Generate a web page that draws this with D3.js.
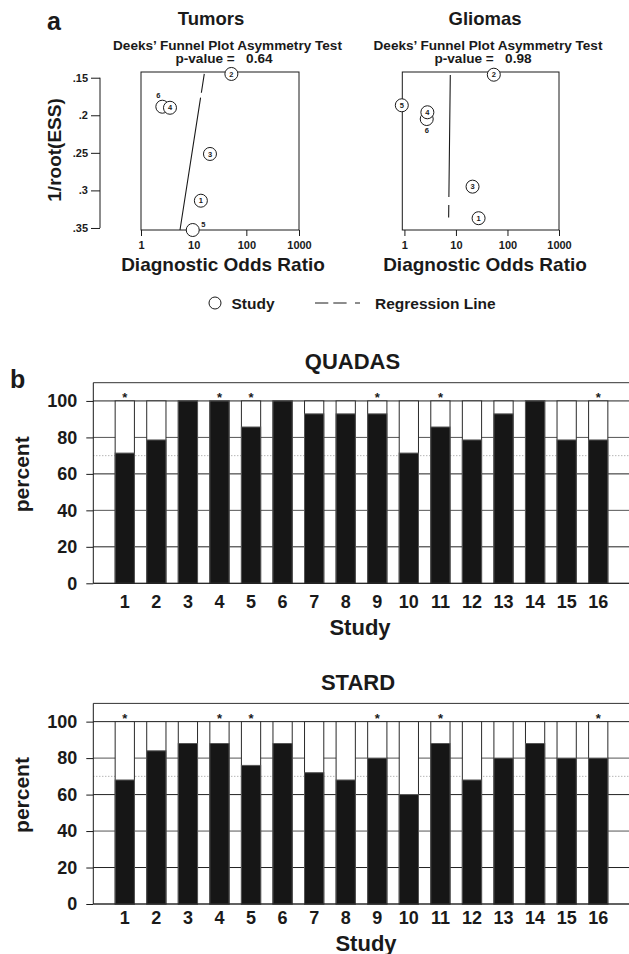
<!DOCTYPE html>
<html>
<head>
<meta charset="utf-8">
<script src="https://cdn.jsdelivr.net/npm/d3@7/dist/d3.min.js"></script>
<style>
  html, body { margin: 0; padding: 0; background: #fff; }
  svg { display: block; }
  text { font-family: "Liberation Sans", Arial, Helvetica, sans-serif; font-weight: bold; fill: #1a1a1a; }
</style>
</head>
<body>
<svg id="chart" width="629" height="954"></svg>
<script>
// ---------------- DATA ----------------
// Panel a: Deeks' funnel plots
const funnelStudies = ["1", "2", "3", "4", "5", "6"];
const tumorDOR = [13.7, 52, 20.4, 3.55, 9.6, 2.54];
const tumorESS = [0.3137, 0.145, 0.2515, 0.190, 0.3527, 0.1886];
const tumorLabelPos = ["c", "c", "c", "c", "ne", "nw"];
const tumorRegDOR = [15.9, 5.5];
const tumorRegESS = [0.145, 0.3527];
const tumorPValue = "0.64";

const gliomaDOR = [27.5, 54.3, 21.0, 2.79, 0.89, 2.71];
const gliomaESS = [0.337, 0.146, 0.295, 0.196, 0.1867, 0.205];
const gliomaLabelPos = ["c", "c", "c", "c", "c", "s"];
const gliomaRegDOR = [7.77, 7.22];
const gliomaRegESS = [0.1464, 0.336];
const gliomaPValue = "0.98";

const essTicks = [0.15, 0.2, 0.25, 0.3, 0.35];
const essTickLabels = [".15", ".2", ".25", ".3", ".35"];
const dorTicks = [1, 10, 100, 1000];

// Panel b: quality scores per study
const studyLabels = ["1","2","3","4","5","6","7","8","9","10","11","12","13","14","15","16"];
const quadasScores = [71.4, 78.6, 100, 100, 85.7, 100, 92.9, 92.9, 92.9, 71.4, 85.7, 78.6, 92.9, 100, 78.6, 78.6];
const stardScores = [68, 84, 88, 88, 76, 88, 72, 68, 80, 60, 88, 68, 80, 88, 80, 80];
const flaggedStudies = ["1", "4", "5", "9", "11", "16"];
const percentTicks = [0, 20, 40, 60, 80, 100];
const thresholdLine = 70;

// ---------------- DRAW ----------------
const svg = d3.select("#chart");
const ink = "#1a1a1a";

// Panel letters
svg.append("text").attr("x", 47).attr("y", 30).attr("font-size", 25).text("a");
svg.append("text").attr("x", 10).attr("y", 388).attr("font-size", 25).text("b");

function funnel(opts) {
  const g = svg.append("g");
  const x = d3.scaleLog().domain(opts.xDomain).range([opts.x0, opts.x1]);
  const y = d3.scaleLinear().domain([0.1424, 0.3527]).range([72, 230]);

  // titles
  g.append("text").attr("x", opts.titleX).attr("y", 25).attr("text-anchor", "middle")
    .attr("font-size", 18.5).text(opts.title);
  g.append("text").attr("x", opts.subX).attr("y", 49.5).attr("text-anchor", "middle")
    .attr("font-size", 13.6).text("Deeks\u2019 Funnel Plot Asymmetry Test");
  g.append("text").attr("x", opts.pX).attr("y", 63).attr("text-anchor", "middle")
    .attr("font-size", 13.6).style("white-space", "pre").text("p-value =   " + opts.p);

  // frame
  g.append("rect").attr("x", opts.x0).attr("y", 72).attr("width", opts.x1 - opts.x0).attr("height", 158)
    .attr("fill", "none").attr("stroke", ink).attr("stroke-width", 1);

  // x axis
  const xAxis = d3.axisBottom(x).tickValues(dorTicks).tickFormat(d3.format("d")).tickSize(6).tickPadding(5);
  const xa = g.append("g").attr("transform", "translate(0,230)").call(xAxis);
  xa.select(".domain").remove();
  xa.selectAll("line").attr("stroke", ink);
  xa.selectAll("text").attr("font-size", 11).attr("font-family", null).attr("fill", ink);
  g.append("text").attr("x", opts.xTitleX).attr("y", 271).attr("text-anchor", "middle")
    .attr("font-size", 19).text("Diagnostic Odds Ratio");

  // y axis (only on left panel)
  if (opts.yAxis) {
    const yAxis = d3.axisLeft(y).tickValues(essTicks).tickFormat((d, i) => essTickLabels[i]).tickSize(9).tickPadding(3);
    const ya = g.append("g").attr("transform", "translate(100,0)").call(yAxis);
    ya.select(".domain").attr("d", `M0,${y(0.15)}V${y(0.35)}`).attr("stroke", ink);
    ya.selectAll("line").attr("stroke", ink);
    ya.selectAll("text").attr("font-size", 11).attr("font-family", null).attr("fill", ink);
    g.append("text").attr("transform", "translate(61,150) rotate(-90)").attr("text-anchor", "middle")
      .attr("font-size", 19).text("1/root(ESS)");
  }

  // regression line
  const reg = opts.regDOR.map((d, i) => [d, opts.regESS[i]]);
  g.append("path").attr("d", d3.line().x(d => x(d[0])).y(d => y(d[1]))(reg))
    .attr("fill", "none").attr("stroke", ink).attr("stroke-width", 1.1)
    .attr("stroke-dasharray", opts.dash);

  // points
  const pts = funnelStudies.map((s, i) => ({ s, dor: opts.dor[i], ess: opts.ess[i], pos: opts.pos[i] }));
  const order = [5, 4, 0, 1, 2, 3];
  const pg = g.selectAll("g.pt").data(order.map(i => pts[i])).join("g").attr("class", "pt")
    .attr("transform", d => `translate(${x(d.dor)},${y(d.ess)})`);
  pg.append("circle").attr("r", 6.5).attr("fill", "#fff").attr("stroke", ink).attr("stroke-width", 1);
  const off = { c: [0, 2.6], ne: [10.5, -3.5], nw: [-4, -8.5], s: [0, 13.5] };
  pg.append("text").attr("text-anchor", "middle").attr("font-size", 7.5)
    .attr("x", d => off[d.pos][0]).attr("y", d => off[d.pos][1]).text(d => d.s);
}

funnel({ title: "Tumors", titleX: 211, subX: 227.5, pX: 224, xTitleX: 223,
  x0: 141, x1: 299, xDomain: [1, 1000], yAxis: true, dash: "19,5,300",
  dor: tumorDOR, ess: tumorESS, pos: tumorLabelPos, regDOR: tumorRegDOR, regESS: tumorRegESS, p: tumorPValue });
funnel({ title: "Gliomas", titleX: 485, subX: 488, pX: 483, xTitleX: 485,
  x0: 402.3, x1: 559, xDomain: [0.91, 1000], yAxis: false, dash: "122,8",
  dor: gliomaDOR, ess: gliomaESS, pos: gliomaLabelPos, regDOR: gliomaRegDOR, regESS: gliomaRegESS, p: gliomaPValue });

// legend
svg.append("circle").attr("cx", 215).attr("cy", 303).attr("r", 6).attr("fill", "#fff").attr("stroke", ink);
svg.append("text").attr("x", 231.5).attr("y", 308.5).attr("font-size", 15.5).text("Study");
svg.append("line").attr("x1", 315).attr("x2", 360).attr("y1", 303).attr("y2", 303)
  .attr("stroke", ink).attr("stroke-width", 1).attr("stroke-dasharray", "13.3,5,13.3,8.4,5");
svg.append("text").attr("x", 375).attr("y", 308.5).attr("font-size", 15.5).text("Regression Line");

// bar charts
function bars(opts) {
  const g = svg.append("g");
  const x = d3.scaleBand().domain(studyLabels).range([109, 614]).paddingInner(0.39).paddingOuter(0.195);
  const y = d3.scaleLinear().domain([0, 110]).range([opts.y0, opts.y0 - 200.6]);
  const left = 93.3, right = 629;

  g.append("text").attr("x", opts.titleX).attr("y", opts.titleY).attr("text-anchor", "middle")
    .attr("font-size", 22).text(opts.title);

  // gridlines + y axis
  const yAxis = d3.axisLeft(y).tickValues(percentTicks).tickSize(7).tickPadding(9);
  const ya = g.append("g").attr("transform", `translate(${left},0)`).call(yAxis);
  ya.select(".domain").remove();
  ya.selectAll("line").attr("stroke", ink);
  ya.selectAll("text").attr("font-size", 18).attr("font-family", null).attr("fill", ink);
  g.selectAll("line.grid").data(percentTicks).join("line").attr("class", "grid")
    .attr("x1", left).attr("x2", right).attr("y1", d => y(d)).attr("y2", d => y(d))
    .attr("stroke", (d, i) => i % 2 ? "#222" : "#555").attr("stroke-width", 1);
  g.append("line").attr("x1", left).attr("x2", right).attr("y1", y(thresholdLine)).attr("y2", y(thresholdLine))
    .attr("stroke", "#8a8a8a").attr("stroke-width", 0.9).attr("stroke-dasharray", "1,2");

  // frame: top & left
  g.append("line").attr("x1", left).attr("x2", right).attr("y1", y(110)).attr("y2", y(110)).attr("stroke", "#333");
  g.append("line").attr("x1", left).attr("x2", left).attr("y1", y(110)).attr("y2", y(0)).attr("stroke", ink);

  // bars
  const data = studyLabels.map((s, i) => ({ s, v: opts.values[i] }));
  g.selectAll("rect.full").data(data).join("rect").attr("class", "full")
    .attr("x", d => x(d.s)).attr("width", x.bandwidth())
    .attr("y", y(100)).attr("height", y(0) - y(100))
    .attr("fill", "#fff").attr("stroke", "#2a2a2a").attr("stroke-width", 1);
  g.selectAll("rect.score").data(data).join("rect").attr("class", "score")
    .attr("x", d => x(d.s)).attr("width", x.bandwidth())
    .attr("y", d => y(d.v)).attr("height", d => y(0) - y(d.v))
    .attr("fill", "#161616").attr("stroke", "#555").attr("stroke-width", 1);
  g.append("line").attr("x1", left).attr("x2", right).attr("y1", y(0)).attr("y2", y(0)).attr("stroke", ink);

  // asterisks
  g.selectAll("text.flag").data(flaggedStudies).join("text").attr("class", "flag")
    .attr("x", d => x(d) + x.bandwidth() / 2).attr("y", y(100) + 1).attr("text-anchor", "middle")
    .attr("font-size", 13).text("*");

  // x labels
  g.selectAll("text.xl").data(studyLabels).join("text").attr("class", "xl")
    .attr("x", d => x(d) + x.bandwidth() / 2).attr("y", opts.y0 + opts.xlOff).attr("text-anchor", "middle")
    .attr("font-size", 18).text(d => d);
  g.append("text").attr("x", opts.studyX).attr("y", opts.studyY).attr("text-anchor", "middle")
    .attr("font-size", 22).text("Study");
  g.append("text").attr("transform", `translate(29,${opts.y0 - 109}) rotate(-90)`).attr("text-anchor", "middle")
    .attr("font-size", 21).text("percent");
}

bars({ title: "QUADAS", titleX: 352.5, titleY: 369, y0: 583.3, values: quadasScores, xlOff: 25, studyX: 360, studyY: 635 });
bars({ title: "STARD", titleX: 358, titleY: 690, y0: 904, values: stardScores, xlOff: 20, studyX: 366, studyY: 951 });
</script>
</body>
</html>
